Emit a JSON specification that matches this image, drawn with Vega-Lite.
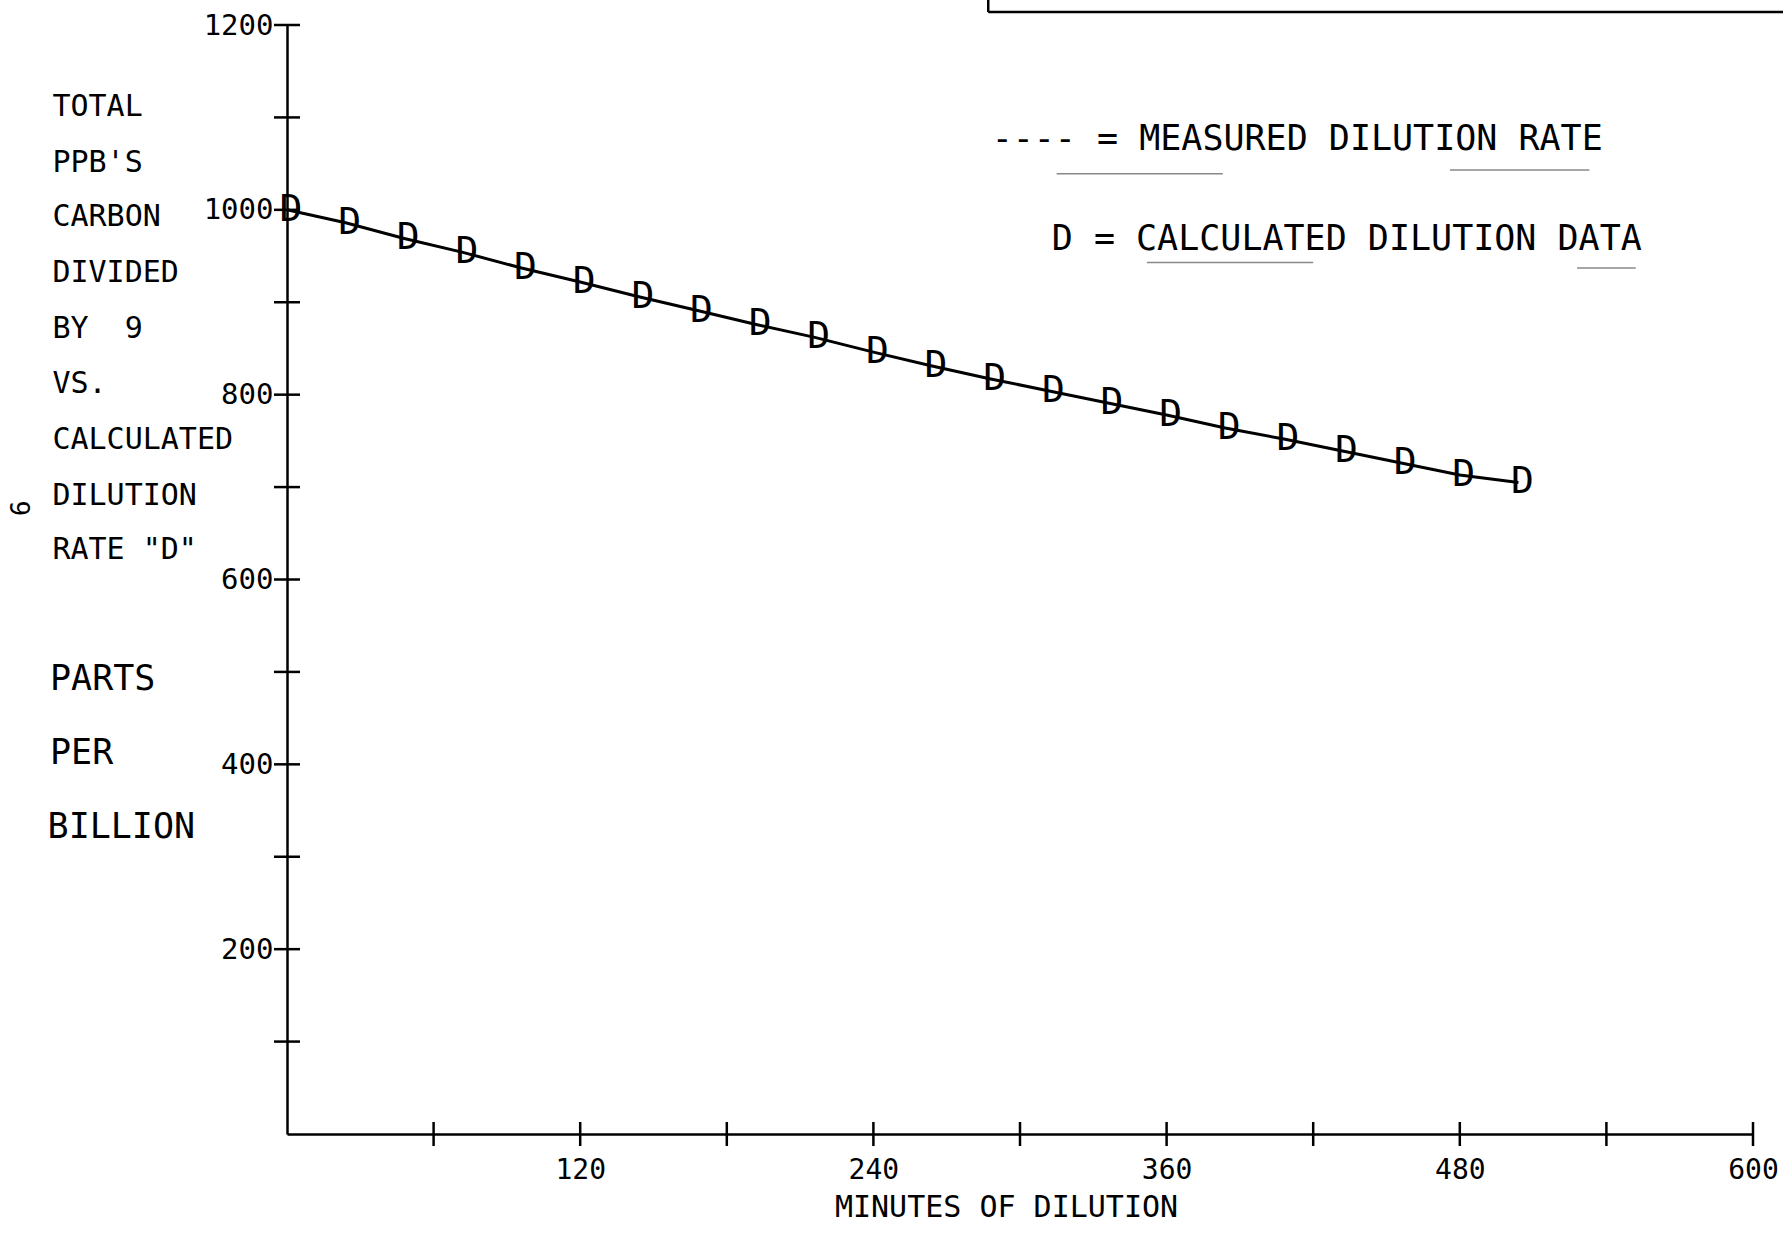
{
  "$schema": "https://vega.github.io/schema/vega-lite/v6.json",
  "width": 1466,
  "height": 1109,
  "autosize": {"type": "none"},
  "padding": {"left": 287, "top": 25, "right": 30, "bottom": 118},
  "background": "white",
  "config": {"view": {"stroke": null}, "font": "DejaVu Sans Mono"},
  "datasets": {
    "pts": [
      {"t": 0, "v": 1000}, {"t": 24, "v": 986}, {"t": 48, "v": 969}, {"t": 72, "v": 954},
      {"t": 96, "v": 937}, {"t": 120, "v": 922}, {"t": 144, "v": 906}, {"t": 168, "v": 891},
      {"t": 192, "v": 876}, {"t": 216, "v": 862}, {"t": 240, "v": 846}, {"t": 264, "v": 831},
      {"t": 288, "v": 817}, {"t": 312, "v": 804}, {"t": 336, "v": 791}, {"t": 360, "v": 778},
      {"t": 384, "v": 764}, {"t": 408, "v": 752}, {"t": 432, "v": 739}, {"t": 456, "v": 726},
      {"t": 480, "v": 713}, {"t": 504, "v": 705}
    ],
    "yticks": [
      {"t": 0, "v": 100}, {"t": 0, "v": 200}, {"t": 0, "v": 300}, {"t": 0, "v": 400},
      {"t": 0, "v": 500}, {"t": 0, "v": 600}, {"t": 0, "v": 700}, {"t": 0, "v": 800},
      {"t": 0, "v": 900}, {"t": 0, "v": 1000}, {"t": 0, "v": 1100}, {"t": 0, "v": 1200}
    ],
    "xticks": [
      {"t": 60, "v": 0}, {"t": 120, "v": 0}, {"t": 180, "v": 0}, {"t": 240, "v": 0},
      {"t": 300, "v": 0}, {"t": 360, "v": 0}, {"t": 420, "v": 0}, {"t": 480, "v": 0},
      {"t": 540, "v": 0}, {"t": 600, "v": 0}
    ],
    "leftSmall": [
      {"t": -96, "v": 1111, "label": "TOTAL"},
      {"t": -96, "v": 1051, "label": "PPB'S"},
      {"t": -96, "v": 992, "label": "CARBON"},
      {"t": -96, "v": 932, "label": "DIVIDED"},
      {"t": -96, "v": 871, "label": "BY\u00a0\u00a09"},
      {"t": -96, "v": 812, "label": "VS."},
      {"t": -96, "v": 751, "label": "CALCULATED"},
      {"t": -96, "v": 690, "label": "DILUTION"},
      {"t": -96, "v": 632, "label": "RATE \"D\""}
    ],
    "leftBig": [
      {"t": -97, "v": 492, "label": "PARTS"},
      {"t": -97, "v": 412, "label": "PER"},
      {"t": -98, "v": 332, "label": "BILLION"}
    ],
    "legend": [
      {"t": 288.4, "v": 1077, "label": "---- = MEASURED DILUTION RATE"},
      {"t": 313, "v": 968, "label": "D = CALCULATED DILUTION DATA"}
    ],
    "pageNo": [{"t": -110, "v": 677, "label": "9"}],
    "boxH": [{"t": 287, "t2": 620, "v": 1214}],
    "boxV": [{"t": 287, "v": 1214, "v2": 1240}],
    "underlines": [
      {"t": 476, "t2": 533, "v": 1043},
      {"t": 352, "t2": 420, "v": 943},
      {"t": 528, "t2": 552, "v": 937},
      {"t": 315, "t2": 383, "v": 1039}
    ]
  },
  "layer": [
    {
      "data": {"name": "pts"},
      "mark": {"type": "line", "color": "black", "strokeWidth": 3},
      "encoding": {
        "x": {
          "field": "t", "type": "quantitative",
          "scale": {"domain": [0, 600], "nice": false, "zero": false},
          "axis": {
            "values": [120, 240, 360, 480, 600], "format": "d",
            "ticks": false, "tickSize": 0, "grid": false,
            "domainColor": "black", "domainWidth": 2.5,
            "labelFontSize": 28, "labelColor": "black", "labelPadding": 22,
            "labelFlush": false,
            "title": "MINUTES OF DILUTION", "titleFontSize": 30, "titleFontWeight": "normal",
            "titleColor": "black", "titleX": 719, "titleY": 58, "titleBaseline": "top"
          }
        },
        "y": {
          "field": "v", "type": "quantitative",
          "scale": {"domain": [0, 1200], "nice": false, "zero": false},
          "axis": {
            "values": [200, 400, 600, 800, 1000, 1200], "format": "d",
            "ticks": false, "tickSize": 0, "grid": false,
            "domainColor": "black", "domainWidth": 2.5,
            "labelFontSize": 29, "labelColor": "black", "labelPadding": 14,
            "labelFlush": false,
            "title": null
          }
        }
      }
    },
    {
      "data": {"name": "pts"},
      "mark": {"type": "text", "text": "D", "fontSize": 38, "color": "black", "dx": 4, "baseline": "middle", "align": "center"},
      "encoding": {
        "x": {"field": "t", "type": "quantitative"},
        "y": {"field": "v", "type": "quantitative"}
      }
    },
    {
      "data": {"name": "yticks"},
      "mark": {"type": "tick", "orient": "horizontal", "color": "black", "size": 26, "thickness": 2.5, "opacity": 1},
      "encoding": {
        "x": {"field": "t", "type": "quantitative"},
        "y": {"field": "v", "type": "quantitative"}
      }
    },
    {
      "data": {"name": "xticks"},
      "mark": {"type": "tick", "orient": "vertical", "color": "black", "size": 24, "thickness": 2.5, "opacity": 1},
      "encoding": {
        "x": {"field": "t", "type": "quantitative"},
        "y": {"field": "v", "type": "quantitative"}
      }
    },
    {
      "data": {"name": "leftSmall"},
      "mark": {"type": "text", "fontSize": 30, "color": "black", "align": "left", "baseline": "middle"},
      "encoding": {
        "x": {"field": "t", "type": "quantitative"},
        "y": {"field": "v", "type": "quantitative"},
        "text": {"field": "label"}
      }
    },
    {
      "data": {"name": "leftBig"},
      "mark": {"type": "text", "fontSize": 35, "color": "black", "align": "left", "baseline": "middle"},
      "encoding": {
        "x": {"field": "t", "type": "quantitative"},
        "y": {"field": "v", "type": "quantitative"},
        "text": {"field": "label"}
      }
    },
    {
      "data": {"name": "legend"},
      "mark": {"type": "text", "fontSize": 35, "color": "black", "align": "left", "baseline": "middle"},
      "encoding": {
        "x": {"field": "t", "type": "quantitative"},
        "y": {"field": "v", "type": "quantitative"},
        "text": {"field": "label"}
      }
    },
    {
      "data": {"name": "pageNo"},
      "mark": {"type": "text", "fontSize": 26, "color": "black", "align": "center", "baseline": "middle", "angle": 90},
      "encoding": {
        "x": {"field": "t", "type": "quantitative"},
        "y": {"field": "v", "type": "quantitative"},
        "text": {"field": "label"}
      }
    },
    {
      "data": {"name": "boxH"},
      "mark": {"type": "rule", "color": "black", "strokeWidth": 2.5},
      "encoding": {
        "x": {"field": "t", "type": "quantitative"},
        "x2": {"field": "t2"},
        "y": {"field": "v", "type": "quantitative"}
      }
    },
    {
      "data": {"name": "boxV"},
      "mark": {"type": "rule", "color": "black", "strokeWidth": 2.5},
      "encoding": {
        "x": {"field": "t", "type": "quantitative"},
        "y": {"field": "v", "type": "quantitative"},
        "y2": {"field": "v2"}
      }
    },
    {
      "data": {"name": "underlines"},
      "mark": {"type": "rule", "color": "#888888", "strokeWidth": 1.5},
      "encoding": {
        "x": {"field": "t", "type": "quantitative"},
        "x2": {"field": "t2"},
        "y": {"field": "v", "type": "quantitative"}
      }
    }
  ]
}
